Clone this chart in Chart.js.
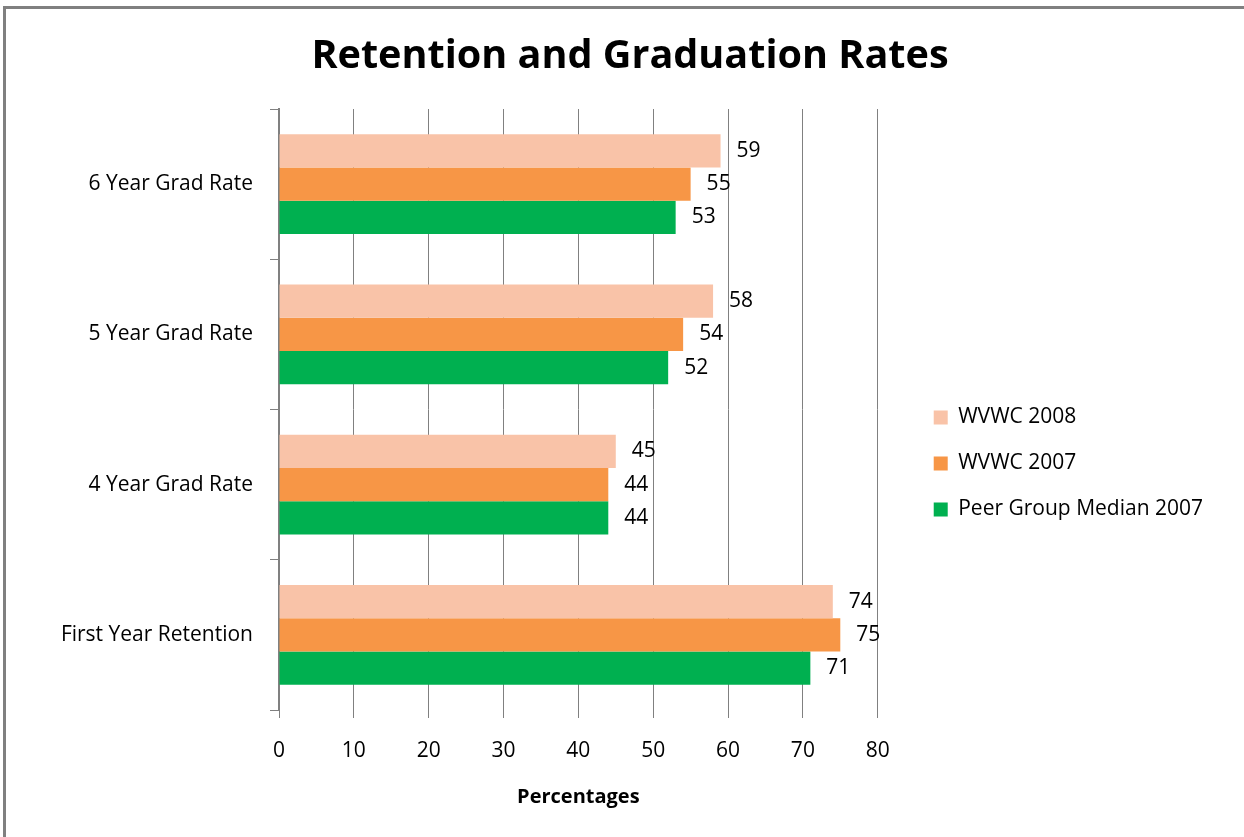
<!DOCTYPE html>
<html>
<head>
<meta charset="utf-8">
<title>Retention and Graduation Rates</title>
<script src="https://cdn.jsdelivr.net/npm/chart.js@4.4.1/dist/chart.umd.min.js"></script>
<style>
  html, body { margin: 0; padding: 0; background: #fff; }
  canvas { display: block; }
</style>
</head>
<body>
<canvas id="retention" width="1244" height="837"></canvas>
<script>
// categories, top to bottom as they appear on the chart
const categories = ['6 Year Grad Rate', '5 Year Grad Rate', '4 Year Grad Rate', 'First Year Retention'];
const seriesNames = ['WVWC 2008', 'WVWC 2007', 'Peer Group Median 2007'];
const wvwc2008 = [59, 58, 45, 74];
const wvwc2007 = [55, 54, 44, 75];
const peerMedian2007 = [53, 52, 44, 71];
const xTicks = [0, 10, 20, 30, 40, 50, 60, 70, 80];

const colors = ['#F9C3A8', '#F79646', '#00B050'];
const labelFont = { family: 'Open Sans', size: 21 };

// value labels to the right of each bar
const valueLabels = {
  id: 'valueLabels',
  afterDatasetsDraw(chart) {
    const ctx = chart.ctx;
    ctx.save();
    ctx.font = '21px "Open Sans"';
    ctx.fillStyle = '#000';
    ctx.textAlign = 'left';
    ctx.textBaseline = 'middle';
    chart.data.datasets.forEach((ds, i) => {
      chart.getDatasetMeta(i).data.forEach((bar, j) => {
        ctx.fillText(ds.data[j], bar.x + 16, bar.y);
      });
    });
    ctx.restore();
  }
};

// grey frame along the top and left edge
const frame = {
  id: 'frame',
  beforeDraw(chart) {
    const ctx = chart.ctx;
    ctx.save();
    ctx.strokeStyle = '#808080';
    ctx.lineWidth = 3;
    ctx.beginPath();
    ctx.moveTo(4.5, chart.height);
    ctx.lineTo(4.5, 7.5);
    ctx.lineTo(chart.width, 7.5);
    ctx.stroke();
    ctx.restore();
  }
};

const ctx = document.getElementById('retention').getContext('2d');
const chart = new Chart(ctx, {
  type: 'bar',
  data: {
    labels: categories,
    datasets: [
      { label: seriesNames[0], data: wvwc2008, backgroundColor: colors[0] },
      { label: seriesNames[1], data: wvwc2007, backgroundColor: colors[1] },
      { label: seriesNames[2], data: peerMedian2007, backgroundColor: colors[2] }
    ]
  },
  options: {
    indexAxis: 'y',
    responsive: false,
    animation: false,
    layout: { padding: { left: 47, right: 31, top: 0, bottom: 0 } },
    datasets: {
      bar: { categoryPercentage: 0.664, barPercentage: 1 }
    },
    scales: {
      x: {
        min: 0,
        max: 80,
        afterBuildTicks(scale) {
          scale.ticks = xTicks.map(v => ({ value: v }));
        },
        afterFit(scale) { scale.height = 127; },
        grid: { color: '#808080', lineWidth: 1, tickLength: 8 },
        border: { display: false },
        ticks: { color: '#000', font: labelFont, padding: 20 },
        title: {
          display: true,
          text: 'Percentages',
          color: '#000',
          font: { family: 'Open Sans', size: 20, weight: 'bold' },
          padding: { top: 0, bottom: 28 }
        }
      },
      y: {
        afterFit(scale) { scale.width = 232; },
        grid: { drawOnChartArea: false, offset: true, color: '#808080', tickLength: 9 },
        border: { color: '#808080', width: 2 },
        ticks: { color: '#000', font: labelFont, padding: 17 }
      },
      // empty axis that keeps a gap between the plot and the legend
      gap: {
        type: 'linear',
        position: 'right',
        display: true,
        grid: { display: false },
        border: { display: false },
        ticks: { display: false },
        afterFit(scale) { scale.width = 31; }
      }
    },
    plugins: {
      title: {
        display: true,
        text: 'Retention and Graduation Rates',
        color: '#000',
        font: { family: 'Open Sans', size: 39.6, weight: 'bold', lineHeight: 1.2 },
        padding: { top: 33, bottom: 28.5 }
      },
      legend: {
        position: 'right',
        align: 'start',
        maxWidth: 400,
        title: { display: true, text: '', padding: { top: 381, bottom: 0 }, font: { size: 1, lineHeight: 1 } },
        labels: {
          color: '#000',
          font: labelFont,
          boxWidth: 14,
          boxHeight: 14,
          padding: 25
        }
      },
      tooltip: { enabled: false }
    }
  },
  plugins: [valueLabels, frame]
});
</script>
</body>
</html>
